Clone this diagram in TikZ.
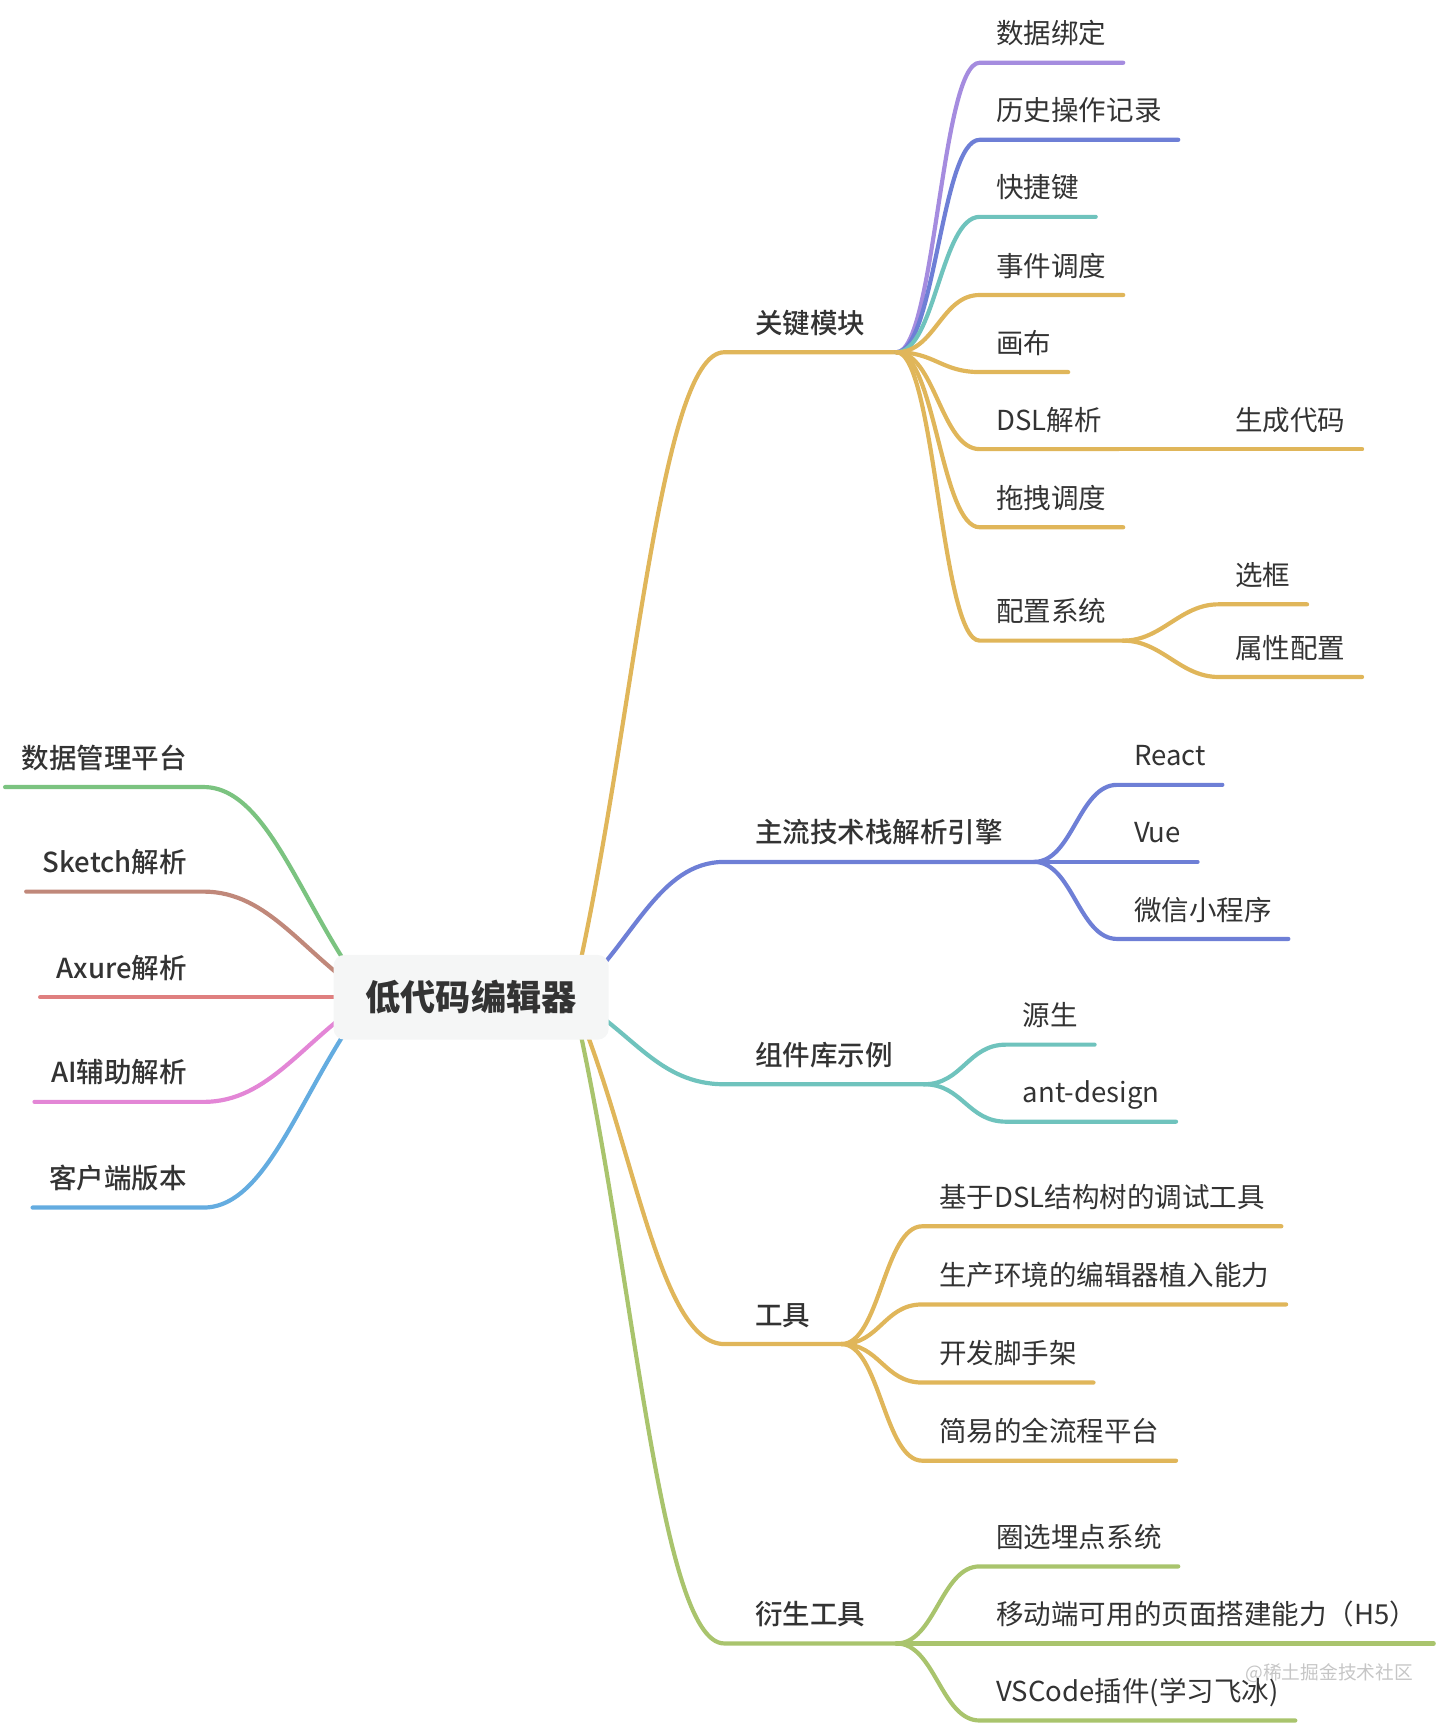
\documentclass[tikz,border=0pt]{standalone}
\usepackage{fontspec}
\newfontfamily\cjk{Noto Sans CJK SC}
\newfontfamily\cjkmid{Noto Sans CJK SC Medium}
\usepackage{tikz}
\usetikzlibrary{calc,backgrounds}
\definecolor{ink}{HTML}{333333}
\definecolor{lav}{HTML}{A58CDF}
\definecolor{indi}{HTML}{6E7FD6}
\definecolor{aqua}{HTML}{6FC3BD}
\definecolor{mustard}{HTML}{E0B65A}
\definecolor{moss}{HTML}{A9C46D}
\definecolor{grass}{HTML}{7BC380}
\definecolor{clay}{HTML}{C0887A}
\definecolor{rose}{HTML}{DF7F7F}
\definecolor{orchid}{HTML}{E386D6}
\definecolor{sky}{HTML}{64ACE0}
\definecolor{rootfill}{HTML}{F5F6F6}
\tikzset{
  rootbox/.style={rounded corners=10pt, fill=rootfill, minimum width=250pt, minimum height=77pt, inner sep=0pt, text=ink, font=\cjk\bfseries\fontsize{32}{36}\selectfont},
  mainbox/.style={anchor=south west, inner xsep=28pt, inner ysep=0pt, text height=20pt, text depth=17pt, text=ink, font=\cjkmid\fontsize{25}{30}\selectfont},
  sidebox/.style={anchor=south east, inner xsep=15pt, inner ysep=0pt, text height=20pt, text depth=17pt, text=ink, font=\cjkmid\fontsize{25}{30}\selectfont},
  leafbox/.style={anchor=south west, inner xsep=15pt, inner ysep=0pt, text height=20pt, text depth=17pt, text=ink, font=\cjk\fontsize{25}{30}\selectfont},
  branch/.style={line width=3.8pt, line cap=round},
  limb/.style={to path={.. controls ($(\tikztostart)+(#1,0)$) and ($(\tikztotarget)-(#1,0)$) .. (\tikztotarget)}},
  limb/.default=35,
  stem/.style={to path={.. controls ($(\tikztostart)!0.4!(\tikztotarget)$) and ($(\tikztotarget)+(#1,0)$) .. (\tikztotarget)}},
  stem/.default=-60,
}
\begin{document}
\begin{tikzpicture}[x=1pt, y=-1pt]
  \useasboundingbox (0,0) rectangle (1314,1568);
  % centre
  \node[rootbox] (centre) at (428,906) {低代码编辑器};
  \coordinate (hubR) at ($(centre.center)+(92,0)$);
  \coordinate (hubL) at ($(centre.center)+(-92,0)$);
  % left side
  \node[sidebox] (sjgl)   at (185,715)  {数据管理平台};
  \node[sidebox] (sketch) at (185,810)  {Sketch解析};
  \node[sidebox] (axure)  at (185,906)  {Axure解析};
  \node[sidebox] (ai)     at (185,1001) {AI辅助解析};
  \node[sidebox] (khd)    at (185,1097) {客户端版本};
  % right side, first level
  \node[mainbox] (gjmk) at (658,320)  {关键模块};
  \node[mainbox] (zljs) at (658,783)  {主流技术栈解析引擎};
  \node[mainbox] (zjk)  at (658,985)  {组件库示例};
  \node[mainbox] (gj)   at (658,1221) {工具};
  \node[mainbox] (ysgj) at (658,1493) {衍生工具};
  % key modules
  \node[leafbox] (sjbd) at (890,57)  {数据绑定};
  \node[leafbox] (lsjl) at (890,127) {历史操作记录};
  \node[leafbox] (kjj)  at (890,197) {快捷键};
  \node[leafbox] (sjdd) at (890,268) {事件调度};
  \node[leafbox] (hb)   at (890,338) {画布};
  \node[leafbox] (dsl)  at (890,408) {DSL解析};
  \node[leafbox] (tzdd) at (890,479) {拖拽调度};
  \node[leafbox] (pzxt) at (890,582) {配置系统};
  \node[leafbox] (scdm) at (1107,408) {生成代码};
  \node[leafbox] (xk)   at (1107,549) {选框};
  \node[leafbox] (sxpz) at (1107,615) {属性配置};
  % tech stacks
  \node[leafbox] (react) at (1015,713) {React};
  \node[leafbox] (vue)   at (1015,783) {Vue};
  \node[leafbox] (wx)    at (1015,853) {微信小程序};
  % component libraries
  \node[leafbox] (ys)   at (914,949)  {源生};
  \node[leafbox] (antd) at (914,1019) {ant-design};
  % tools
  \node[leafbox] (tsgj) at (838,1114) {基于DSL结构树的调试工具};
  \node[leafbox] (zrnl) at (838,1185) {生产环境的编辑器植入能力};
  \node[leafbox] (jsj)  at (838,1256) {开发脚手架};
  \node[leafbox] (qlc)  at (838,1327) {简易的全流程平台};
  % derived tools
  \node[leafbox] (qxmd) at (890,1423) {圈选埋点系统};
  \node[leafbox] (h5)   at (890,1493) {移动端可用的页面搭建能力（H5）};
  \node[leafbox] (vsc)  at (890,1563) {VSCode插件(学习飞冰)};
  \node[font=\cjk\fontsize{17}{20}\selectfont, text=gray!45, anchor=west] (mark) at (1128,1520) {@稀土掘金技术社区};
  \begin{scope}[on background layer]
    \draw[branch, grass]  (hubL) to[stem=60] (sjgl.south east) -- (sjgl.south west);
    \draw[branch, clay]   (hubL) to[stem=60] (sketch.south east) -- (sketch.south west);
    \draw[branch, rose]   (hubL) to[stem=60] (axure.south east) -- (axure.south west);
    \draw[branch, orchid] (hubL) to[stem=60] (ai.south east) -- (ai.south west);
    \draw[branch, sky]    (hubL) to[stem=60] (khd.south east) -- (khd.south west);
    \draw[branch, mustard] (hubR) to[stem] (gjmk.south west) -- (gjmk.south east);
    \draw[branch, indi]    (hubR) to[stem] (zljs.south west) -- (zljs.south east);
    \draw[branch, aqua]    (hubR) to[stem] (zjk.south west) -- (zjk.south east);
    \draw[branch, mustard] (hubR) to[stem] (gj.south west) -- (gj.south east);
    \draw[branch, moss]    (hubR) to[stem] (ysgj.south west) -- (ysgj.south east);
    \draw[branch, lav]     (gjmk.south east) to[limb] (sjbd.south west) -- (sjbd.south east);
    \draw[branch, indi]    (gjmk.south east) to[limb] (lsjl.south west) -- (lsjl.south east);
    \draw[branch, aqua]    (gjmk.south east) to[limb] (kjj.south west) -- (kjj.south east);
    \foreach \k in {sjdd,hb,dsl,tzdd,pzxt}
      \draw[branch, mustard] (gjmk.south east) to[limb] (\k.south west) -- (\k.south east);
    \draw[branch, mustard] (dsl.south east) -- (scdm.south west) -- (scdm.south east);
    \foreach \k in {xk,sxpz}
      \draw[branch, mustard] (pzxt.south east) to[limb] (\k.south west) -- (\k.south east);
    \foreach \k in {react,vue,wx}
      \draw[branch, indi] (zljs.south east) to[limb] (\k.south west) -- (\k.south east);
    \foreach \k in {ys,antd}
      \draw[branch, aqua] (zjk.south east) to[limb] (\k.south west) -- (\k.south east);
    \foreach \k in {tsgj,zrnl,jsj,qlc}
      \draw[branch, mustard] (gj.south east) to[limb] (\k.south west) -- (\k.south east);
    \foreach \k in {qxmd,h5,vsc}
      \draw[branch, moss] (ysgj.south east) to[limb] (\k.south west) -- (\k.south east);
  \end{scope}
\end{tikzpicture}
\end{document}
